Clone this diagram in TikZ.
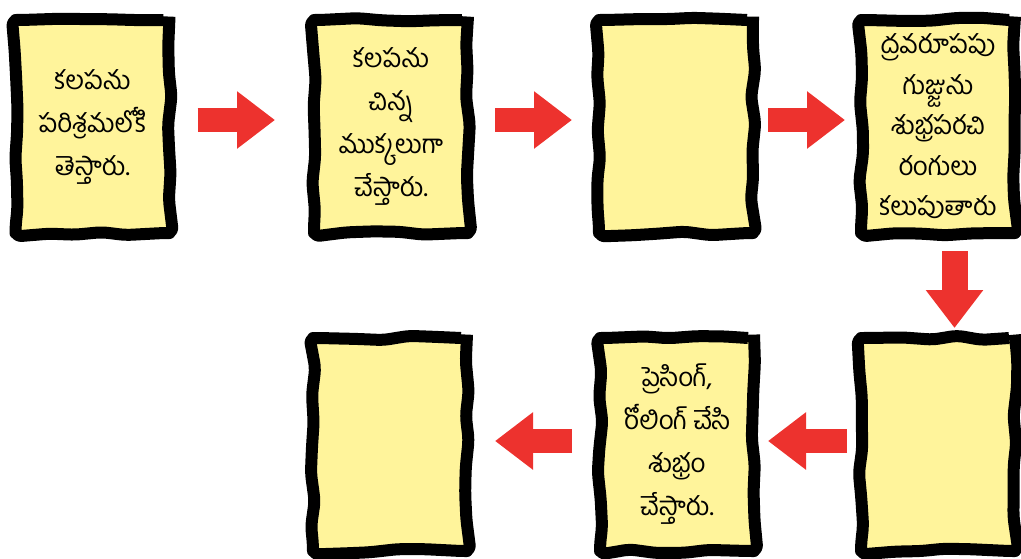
\documentclass[tikz,border=0pt]{standalone}
\usepackage{fontspec}
\newfontfamily\telugu[Script=Telugu]{Hind Guntur}
\usetikzlibrary{arrows.meta,decorations.pathmorphing}
\definecolor{cardfill}{RGB}{255,244,155}
\definecolor{arrowred}{RGB}{237,50,46}
\tikzset{
  card/.style={draw=black, fill=cardfill, line width=12pt, minimum width=154pt,
    minimum height=213pt, inner sep=0pt, outer sep=6pt, align=center,
    rounded corners=6pt, decorate,
    decoration={random steps, segment length=26pt, amplitude=2.4pt},
    font=\telugu\fontsize{26}{43}\selectfont},
  flow/.style={draw=arrowred, line width=24pt, -{Triangle[length=38pt, width=55pt]}},
  every picture/.style={line cap=butt, line join=round}
}

\begin{document}
\begin{tikzpicture}[x=1pt, y=-1pt]
  \pgfmathsetseed{11}
  \useasboundingbox (0,0) rectangle (1021,558);

  % top row
  \node[card] (c1) at (92.5,126.5) {కలపను\\పరిశ్రమలోకి\\తెస్తారు.};
  \node[card] (c2) at (391,126.5) {కలపను\\చిన్న\\ముక్కలుగా\\చేస్తారు.};
  \node[card] (c3) at (676,126.5) {};
  \node[card, font=\telugu\fontsize{26}{40.5}\selectfont] (c4) at (938,126.5)
    {ద్రవరూపపు\\గుజ్జును\\శుభ్రపరచి\\రంగులు\\కలుపుతారు};

  % bottom row
  \node[card] (c5) at (938,444.5) {};
  \node[card] (c6) at (677,444.5) {ప్రెసింగ్,\\రోలింగ్ చేసి\\శుభ్రం\\చేస్తారు.};
  \node[card] (c7) at (390,444.5) {};

  \draw[flow, shorten <=22pt, shorten >=33pt] ([yshift=6.5pt]c1.east) -- ([yshift=6.5pt]c2.west);
  \draw[flow, shorten <=21pt, shorten >=21pt] ([yshift=6.5pt]c2.east) -- ([yshift=6.5pt]c3.west);
  \draw[flow, shorten <=9pt, shorten >=10pt] ([yshift=6.5pt]c3.east) -- ([yshift=6.5pt]c4.west);
  \draw[flow, line width=26pt, shorten <=12pt, shorten >=4pt] ([xshift=16.5pt]c4.south) -- ([xshift=16.5pt]c5.north);
  \draw[flow, shorten <=8pt, shorten >=8pt] ([yshift=3.5pt]c5.west) -- ([yshift=3.5pt]c6.east);
  \draw[flow, shorten <=22pt, shorten >=22pt] ([yshift=3.5pt]c6.west) -- ([yshift=3.5pt]c7.east);
\end{tikzpicture}
\end{document}
